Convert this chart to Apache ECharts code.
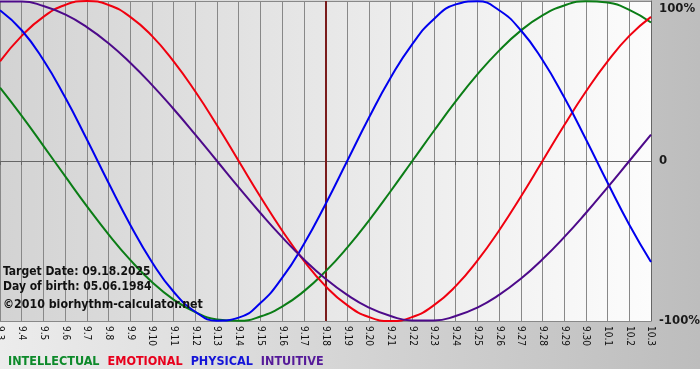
<!DOCTYPE html>
<html><head><meta charset="utf-8">
<script src="https://cdn.jsdelivr.net/npm/echarts@6/dist/echarts.min.js"></script>
<style>html,body{margin:0;padding:0;background:#fff}#c{width:700px;height:380px}</style>
</head><body><div id="c"></div>
<script>
const days = ['9.3','9.4','9.5','9.6','9.7','9.8','9.9','9.10','9.11','9.12','9.13','9.14','9.15','9.16','9.17','9.18','9.19','9.20','9.21','9.22','9.23','9.24','9.25','9.26','9.27','9.28','9.29','9.30','10.1','10.2','10.3'];
const intellectual = [0.458,0.282,0.095,-0.095,-0.282,-0.458,-0.618,-0.756,-0.866,-0.945,-0.990,-0.999,-0.972,-0.910,-0.815,-0.690,-0.541,-0.372,-0.189,0,0.189,0.372,0.541,0.690,0.815,0.910,0.972,0.999,0.990,0.945,0.866];
const emotional = [0.623,0.782,0.901,0.975,1.000,0.975,0.901,0.782,0.623,0.434,0.223,0,-0.223,-0.434,-0.623,-0.782,-0.901,-0.975,-1.000,-0.975,-0.901,-0.782,-0.623,-0.434,-0.223,0,0.223,0.434,0.623,0.782,0.901];
const physical = [0.942,0.817,0.631,0.398,0.136,-0.136,-0.398,-0.631,-0.817,-0.942,-0.998,-0.979,-0.888,-0.731,-0.520,-0.270,0,0.270,0.520,0.731,0.888,0.979,0.998,0.942,0.817,0.631,0.398,0.136,-0.136,-0.398,-0.631];
const intuitive = [0.997,0.997,0.969,0.916,0.837,0.736,0.614,0.476,0.325,0.165,0,-0.165,-0.325,-0.476,-0.614,-0.736,-0.837,-0.916,-0.969,-0.997,-0.997,-0.969,-0.916,-0.837,-0.736,-0.614,-0.476,-0.325,-0.165,0,0.165];
const yTickLabels = {'-1':'-100%','0':'0','1':'100%'};
const targetDay = '9.18';
const infoLines = ['Target Date: 09.18.2025','Day of birth: 05.06.1984'];
const copyright = '©2010 biorhythm-calculator.net';
const seriesNames = ['INTELLECTUAL','EMOTIONAL','PHYSICAL','INTUITIVE'];
const seriesColors = ['#0b7d16','#f0000f','#0000ee','#4d0a8a'];
const legendColors = ['#0d8a2a','#e8001c','#1414d8','#551a99'];
const seriesData = [intellectual, emotional, physical, intuitive];

const chart = echarts.init(document.getElementById('c'), null, {renderer:'canvas'});
const CF = '"DejaVu Sans Condensed", "DejaVu Sans", sans-serif';
chart.setOption({
  animation:false,
  backgroundColor:{type:'linear',x:0,y:0,x2:1,y2:0,colorStops:[{offset:0,color:'#ececec'},{offset:1,color:'#bdbdbd'}]},
  grid:{left:0,right:49,top:1,bottom:59,show:true,borderWidth:0,outerBoundsMode:'none',containLabel:false,
    backgroundColor:{type:'linear',x:0,y:0,x2:1,y2:0,colorStops:[{offset:0,color:'#d3d3d3'},{offset:1,color:'#fcfcfc'}]}},
  legend:{left:3,top:355,icon:'none',itemWidth:0,itemGap:3,padding:0,selectedMode:false,
    textStyle:{fontFamily:CF,fontWeight:'bold',fontSize:12.5},
    data:seriesNames.map((n,i)=>({name:n,textStyle:{color:legendColors[i]}}))},
  xAxis:{type:'category',data:days,boundaryGap:false,
    axisLine:{show:true,lineStyle:{color:'#666',width:1}},
    axisTick:{show:true,length:4,alignWithLabel:true,lineStyle:{color:'#666'}},
    axisLabel:{rotate:-90,fontSize:10,color:'#111',margin:5,interval:0,fontFamily:CF},
    splitLine:{show:true,lineStyle:{color:'#888',width:1}}},
  yAxis:{type:'value',position:'right',min:-1,max:1,interval:1,
    axisLine:{show:true,lineStyle:{color:'#666',width:1}},
    axisTick:{show:false},
    splitLine:{show:true,lineStyle:{color:'#888',width:1}},
    axisLabel:{margin:8,fontSize:13,fontWeight:'bold',color:'#1a1a1a',fontFamily:CF,
      formatter:v=>{const s=yTickLabels[String(v)]; return v===1?'{t|'+s+'}':s;},
      rich:{t:{padding:[16,0,0,0],fontSize:13,fontWeight:'bold',color:'#1a1a1a',fontFamily:CF}}}},
  series:seriesData.map((d,i)=>({name:seriesNames[i],type:'line',data:d,smooth:0.5,showSymbol:false,
    lineStyle:{color:seriesColors[i],width:2},itemStyle:{color:seriesColors[i]},z:3+i,
    markLine: i===0?{silent:true,symbol:'none',label:{show:false},z:2,
      lineStyle:{color:'#7a1c1c',width:2,type:'solid'},data:[{xAxis:targetDay}]}:undefined})),
  graphic:[
    {type:'rect',left:0,top:369,shape:{width:700,height:11},style:{fill:'#ffffff'},z:-1},
    {type:'text',left:3,top:266,z:20,style:{text:infoLines[0],font:'bold 12px '+CF,fill:'#111'}},
    {type:'text',left:3,top:281,z:20,style:{text:infoLines[1],font:'bold 12px '+CF,fill:'#111'}},
    {type:'text',left:3,top:299,z:20,style:{text:copyright,font:'bold 12.3px '+CF,fill:'#111'}}
  ]
});
</script></body></html>
